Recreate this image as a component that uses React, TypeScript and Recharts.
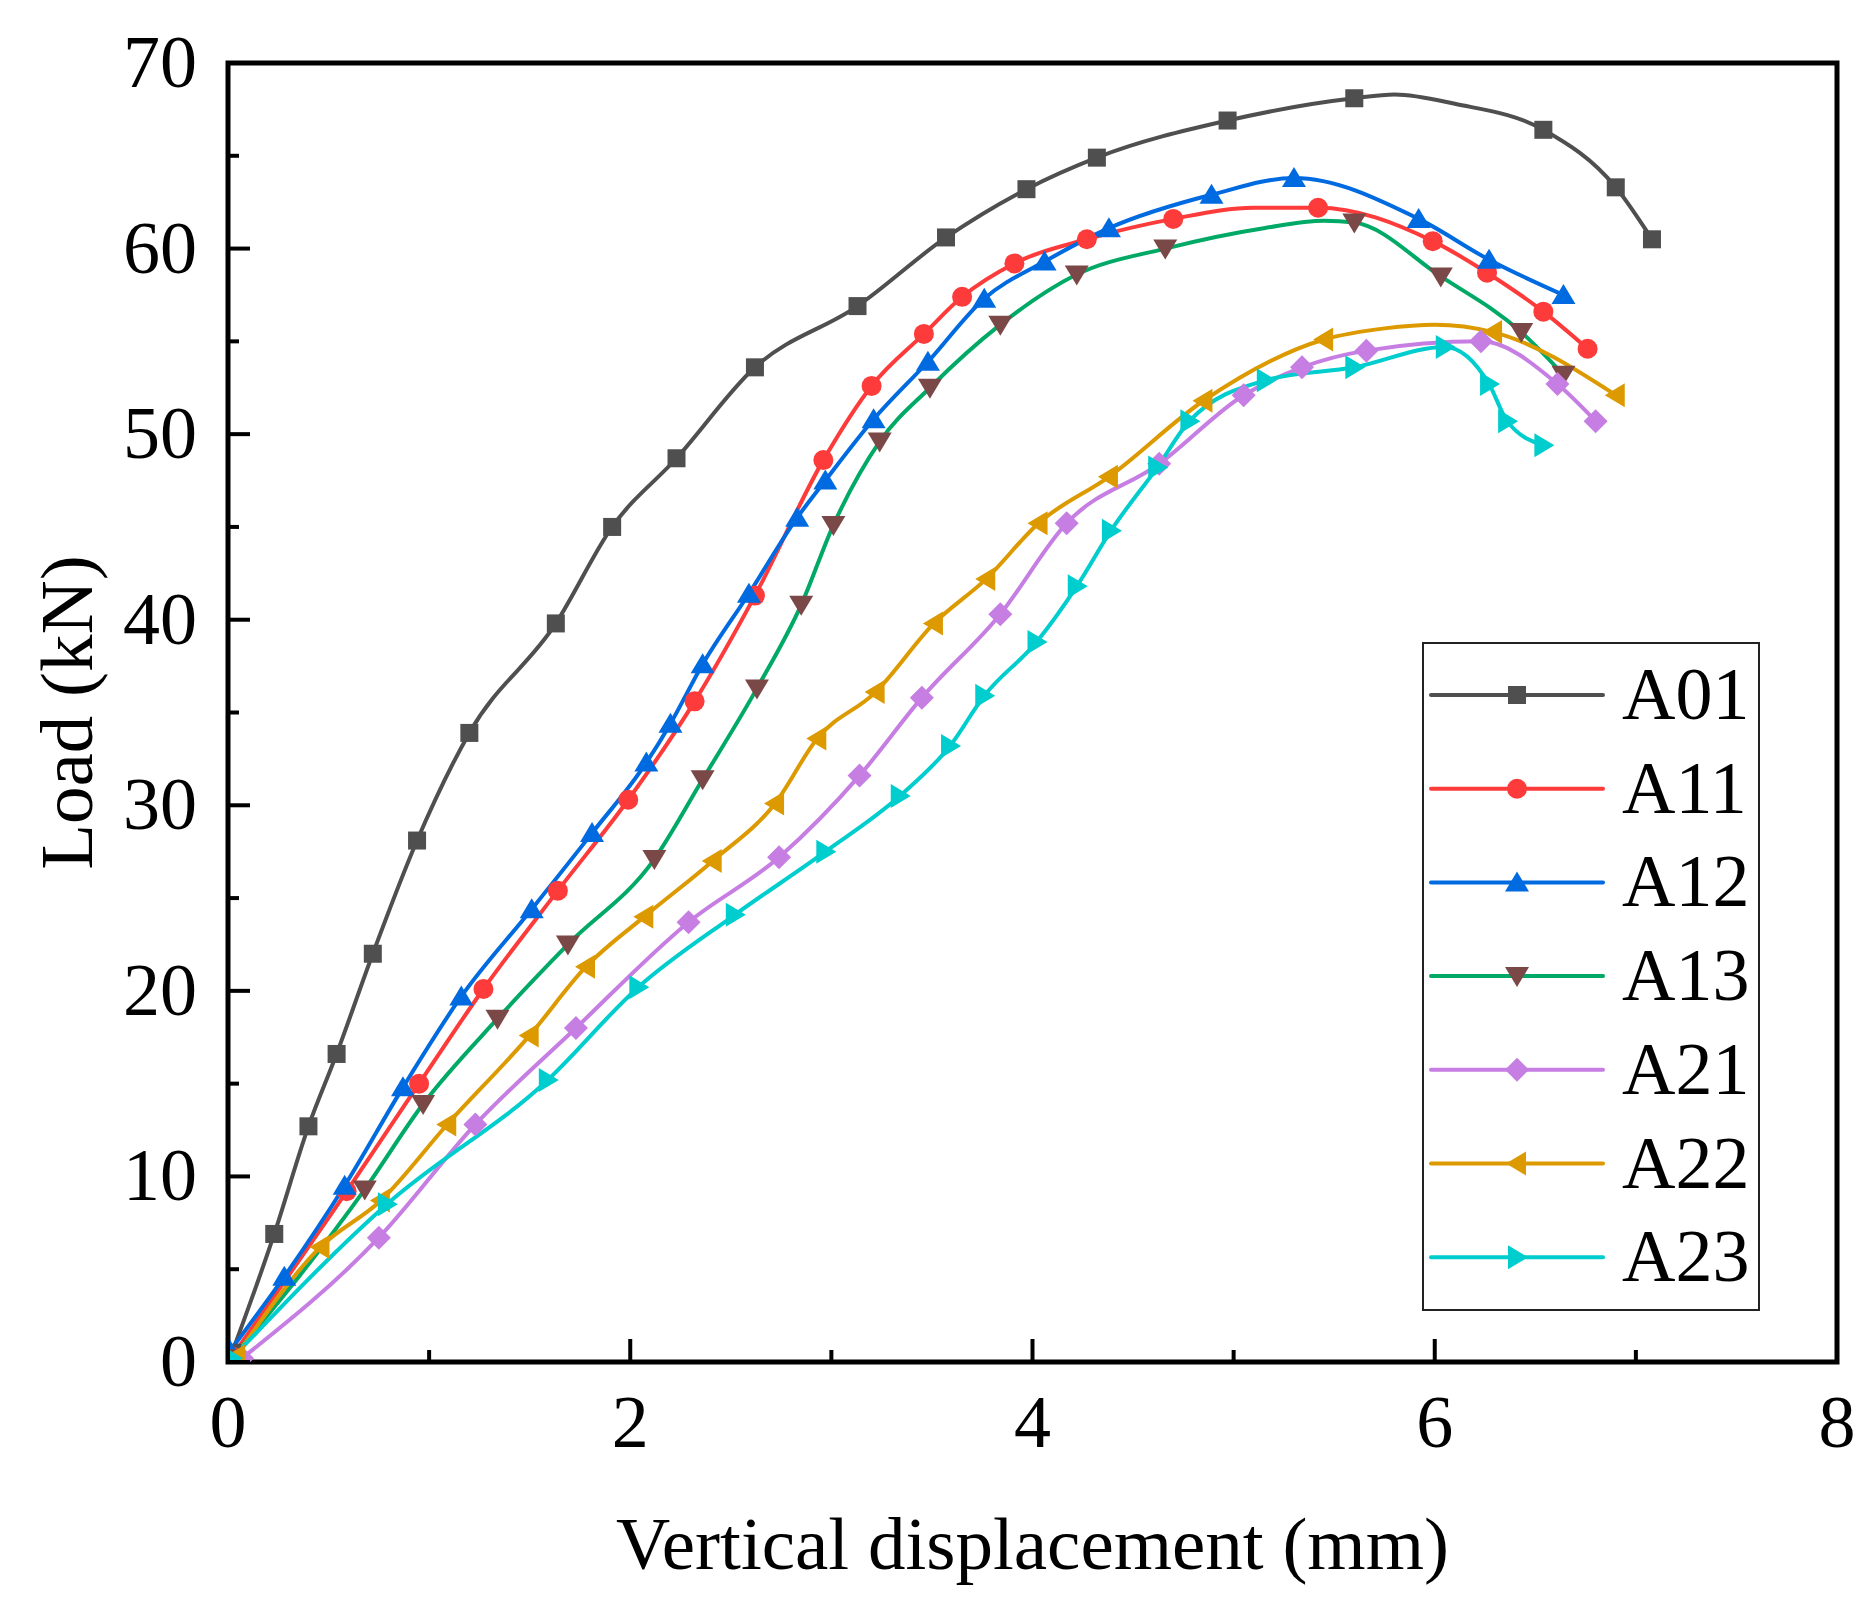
import React from "react";
import {
  Legend,
  Line,
  LineChart,
  ReferenceArea,
  XAxis,
  YAxis
} from "recharts";

// marker points: [displacement (mm), load (kN)]
const A01 = [
  [0.02, 0.5], [0.23, 6.9], [0.4, 12.7], [0.54, 16.6], [0.72, 22.0], [0.94, 28.1],
  [1.2, 33.9], [1.63, 39.8], [1.91, 45.0], [2.23, 48.7], [2.62, 53.6], [3.13, 56.9],
  [3.57, 60.6], [3.97, 63.2], [4.32, 64.9], [4.97, 66.9], [5.6, 68.1], [6.54, 66.4],
  [6.9, 63.3], [7.08, 60.5]
];
const A11 = [
  [0.02, 0.3], [0.59, 9.2], [0.95, 15.0], [1.27, 20.1], [1.64, 25.4], [1.99, 30.3],
  [2.32, 35.6], [2.62, 41.3], [2.96, 48.6], [3.2, 52.6], [3.46, 55.4], [3.65, 57.4],
  [3.91, 59.2], [4.27, 60.5], [4.7, 61.6], [5.42, 62.2], [5.99, 60.4], [6.26, 58.7],
  [6.54, 56.6], [6.76, 54.6]
];
const A12 = [
  [0.01, 0.6], [0.28, 4.6], [0.58, 9.5], [0.87, 14.8], [1.16, 19.7], [1.51, 24.4],
  [1.81, 28.5], [2.08, 32.3], [2.2, 34.4], [2.36, 37.6], [2.59, 41.4], [2.83, 45.5],
  [2.97, 47.5], [3.21, 50.8], [3.48, 53.9], [3.76, 57.3], [4.06, 59.3], [4.38, 61.1],
  [4.89, 62.9], [5.3, 63.8], [5.92, 61.6], [6.27, 59.4], [6.64, 57.5]
];
const A13 = [
  [0.02, 0.2], [0.68, 9.3], [0.97, 13.9], [1.34, 18.5], [1.69, 22.5], [2.12, 27.1],
  [2.36, 31.4], [2.63, 36.3], [2.85, 40.8], [3.01, 45.1], [3.24, 49.6], [3.49, 52.5],
  [3.84, 55.9], [4.22, 58.6], [4.66, 60.0], [5.6, 61.4], [6.03, 58.5], [6.43, 55.5],
  [6.64, 53.2]
];
const A21 = [
  [0.07, 0.2], [0.75, 6.7], [1.23, 12.8], [1.73, 18.0], [2.29, 23.7], [2.74, 27.2],
  [3.14, 31.6], [3.45, 35.8], [3.84, 40.3], [4.17, 45.2], [4.63, 48.4], [5.05, 52.1],
  [5.34, 53.6], [5.66, 54.5], [6.23, 55.0], [6.61, 52.7], [6.8, 50.7]
];
const A22 = [
  [0.04, 0.3], [0.46, 6.2], [0.76, 8.7], [1.09, 12.8], [1.5, 17.6], [1.78, 21.3],
  [2.07, 24.0], [2.41, 27.0], [2.72, 30.1], [2.93, 33.6], [3.22, 36.1], [3.51, 39.8],
  [3.77, 42.2], [4.03, 45.2], [4.38, 47.7], [4.85, 51.8], [5.45, 55.1], [6.29, 55.5],
  [6.9, 52.1]
];
const A23 = [
  [0.02, 0.2], [0.79, 8.5], [1.59, 15.2], [2.04, 20.2], [2.52, 24.1], [2.97, 27.5],
  [3.34, 30.5], [3.59, 33.2], [3.76, 35.9], [4.02, 38.8], [4.22, 41.8], [4.39, 44.8],
  [4.62, 48.2], [4.78, 50.7], [5.16, 52.9], [5.6, 53.6], [6.05, 54.7], [6.27, 52.7],
  [6.36, 50.7], [6.54, 49.4]
];

// unmarked points where the drawn curve runs between markers
const A01_CURVE = [[5.8, 68.3], [6.1, 67.8]];
const A11_CURVE = [[5.1, 62.2]];
const A13_CURVE = [[5.15, 61.1], [5.45, 61.5]];
const A22_CURVE = [[5.75, 55.7], [6.0, 55.9]];

const X_TICKS = [0, 1, 2, 3, 4, 5, 6, 7, 8];
const Y_TICKS = [0, 5, 10, 15, 20, 25, 30, 35, 40, 45, 50, 55, 60, 65, 70];

const FONT = '"Liberation Serif", "Times New Roman", serif';

const SERIES = [
  { name: "A01", points: A01, curve: A01_CURVE, color: "#4f4f4f", marker: "#4f4f4f", shape: "square" },
  { name: "A11", points: A11, curve: A11_CURVE, color: "#fd3b3b", marker: "#fd3b3b", shape: "circle" },
  { name: "A12", points: A12, curve: [], color: "#006ae0", marker: "#006ae0", shape: "up" },
  { name: "A13", points: A13, curve: A13_CURVE, color: "#00aa66", marker: "#7b4848", shape: "down" },
  { name: "A21", points: A21, curve: [], color: "#c67ee3", marker: "#c67ee3", shape: "diamond" },
  { name: "A22", points: A22, curve: A22_CURVE, color: "#dd9a00", marker: "#dd9a00", shape: "left" },
  { name: "A23", points: A23, curve: [], color: "#00cdcd", marker: "#00cdcd", shape: "right" }
];

function toRows(points, curve) {
  return [
    ...points.map(([x, y]) => ({ x, y, mk: true })),
    ...curve.map(([x, y]) => ({ x, y, mk: false }))
  ].sort((a, b) => a.x - b.x);
}

function Marker({ shape, cx, cy, fill }) {
  switch (shape) {
    case "square":
      return <rect x={cx - 9} y={cy - 9} width={18} height={18} fill={fill} />;
    case "circle":
      return <circle cx={cx} cy={cy} r={10} fill={fill} />;
    case "up":
      return <polygon points={`${cx},${cy - 11} ${cx + 12},${cy + 9} ${cx - 12},${cy + 9}`} fill={fill} />;
    case "down":
      return <polygon points={`${cx - 12},${cy - 9} ${cx + 12},${cy - 9} ${cx},${cy + 11}`} fill={fill} />;
    case "diamond":
      return <polygon points={`${cx},${cy - 12} ${cx + 12},${cy} ${cx},${cy + 12} ${cx - 12},${cy}`} fill={fill} />;
    case "left":
      return <polygon points={`${cx - 11},${cy} ${cx + 9},${cy - 12} ${cx + 9},${cy + 12}`} fill={fill} />;
    default:
      return <polygon points={`${cx + 11},${cy} ${cx - 9},${cy - 12} ${cx - 9},${cy + 12}`} fill={fill} />;
  }
}

function makeDot(s) {
  return (props) => {
    const { cx, cy, payload, index } = props;
    if (!payload || !payload.mk || cx == null || cy == null) return <g key={`d-${s.name}-${index}`} />;
    return (
      <g key={`d-${s.name}-${index}`}>
        <Marker shape={s.shape} cx={cx} cy={cy} fill={s.marker} />
      </g>
    );
  };
}

function YTick({ x, y, payload }) {
  const major = payload.value % 10 === 0;
  return (
    <g>
      <line x1={x} x2={x + (major ? 22 : 11)} y1={y} y2={y} stroke="#000" strokeWidth={4} />
      {major && (
        <text x={x - 31} y={y + 24} textAnchor="end" fontFamily={FONT} fontSize={74} fill="#000">
          {payload.value}
        </text>
      )}
    </g>
  );
}

function XTick({ x, y, payload }) {
  const major = payload.value % 2 === 0;
  return (
    <g>
      <line x1={x} x2={x} y1={y} y2={y - (major ? 23 : 12)} stroke="#000" strokeWidth={4} />
      {major && (
        <text x={x} y={y + 85} textAnchor="middle" fontFamily={FONT} fontSize={74} fill="#000">
          {payload.value}
        </text>
      )}
    </g>
  );
}

function LegendBox() {
  return (
    <svg width={338} height={669} style={{ display: "block" }}>
      <rect x={1} y={1} width={336} height={667} fill="#fff" stroke="#222" strokeWidth={2} />
      {SERIES.map((s, i) => {
        const cy = 53 + i * 93.7;
        return (
          <g key={s.name}>
            <line x1={9} x2={181} y1={cy} y2={cy} stroke={s.color} strokeWidth={4} strokeLinecap="round" />
            <Marker shape={s.shape} cx={95} cy={cy} fill={s.marker} />
            <text x={200} y={cy + 24} fontFamily={FONT} fontSize={74} fill="#000">
              {s.name}
            </text>
          </g>
        );
      })}
    </svg>
  );
}

export default function App() {
  return (
    <div style={{ position: "absolute", left: 0, top: 0, width: 1872, height: 1611, background: "#fff" }}>
      <LineChart width={1872} height={1611} margin={{ top: 63, right: 35, bottom: 0, left: 0 }}>
        <XAxis
          type="number"
          dataKey="x"
          domain={[0, 8]}
          ticks={X_TICKS}
          interval={0}
          allowDataOverflow
          height={249}
          axisLine={false}
          tickLine={false}
          tickSize={0}
          tickMargin={0}
          tick={<XTick />}
          label={({ viewBox }) => (
            <text
              x={viewBox.x + viewBox.width / 2}
              y={viewBox.y + 207}
              textAnchor="middle"
              fontFamily={FONT}
              fontSize={75}
              fill="#000"
            >
              Vertical displacement (mm)
            </text>
          )}
        />
        <YAxis
          type="number"
          dataKey="y"
          domain={[0, 70]}
          ticks={Y_TICKS}
          interval={0}
          allowDataOverflow
          width={228}
          axisLine={false}
          tickLine={false}
          tickSize={0}
          tickMargin={0}
          tick={<YTick />}
          label={({ viewBox }) => {
            const cx = viewBox.x + 92;
            const cy = viewBox.y + viewBox.height / 2;
            return (
              <text
                x={cx}
                y={cy}
                transform={`rotate(-90, ${cx}, ${cy})`}
                textAnchor="middle"
                fontFamily={FONT}
                fontSize={75}
                fill="#000"
              >
                Load (kN)
              </text>
            );
          }}
        />
        <ReferenceArea x1={0} x2={8} y1={0} y2={70} fill="none" stroke="#000" strokeWidth={5} />
        {SERIES.map((s) => (
          <Line
            key={s.name}
            name={s.name}
            data={toRows(s.points, s.curve)}
            dataKey="y"
            type="monotone"
            stroke={s.color}
            strokeWidth={4}
            dot={makeDot(s)}
            activeDot={false}
            isAnimationActive={false}
          />
        ))}
        <Legend
          layout="vertical"
          align="center"
          verticalAlign="middle"
          width={338}
          height={669}
          wrapperStyle={{ left: 1422, top: 642, width: 338, height: 669 }}
          content={() => <LegendBox />}
        />
      </LineChart>
    </div>
  );
}
